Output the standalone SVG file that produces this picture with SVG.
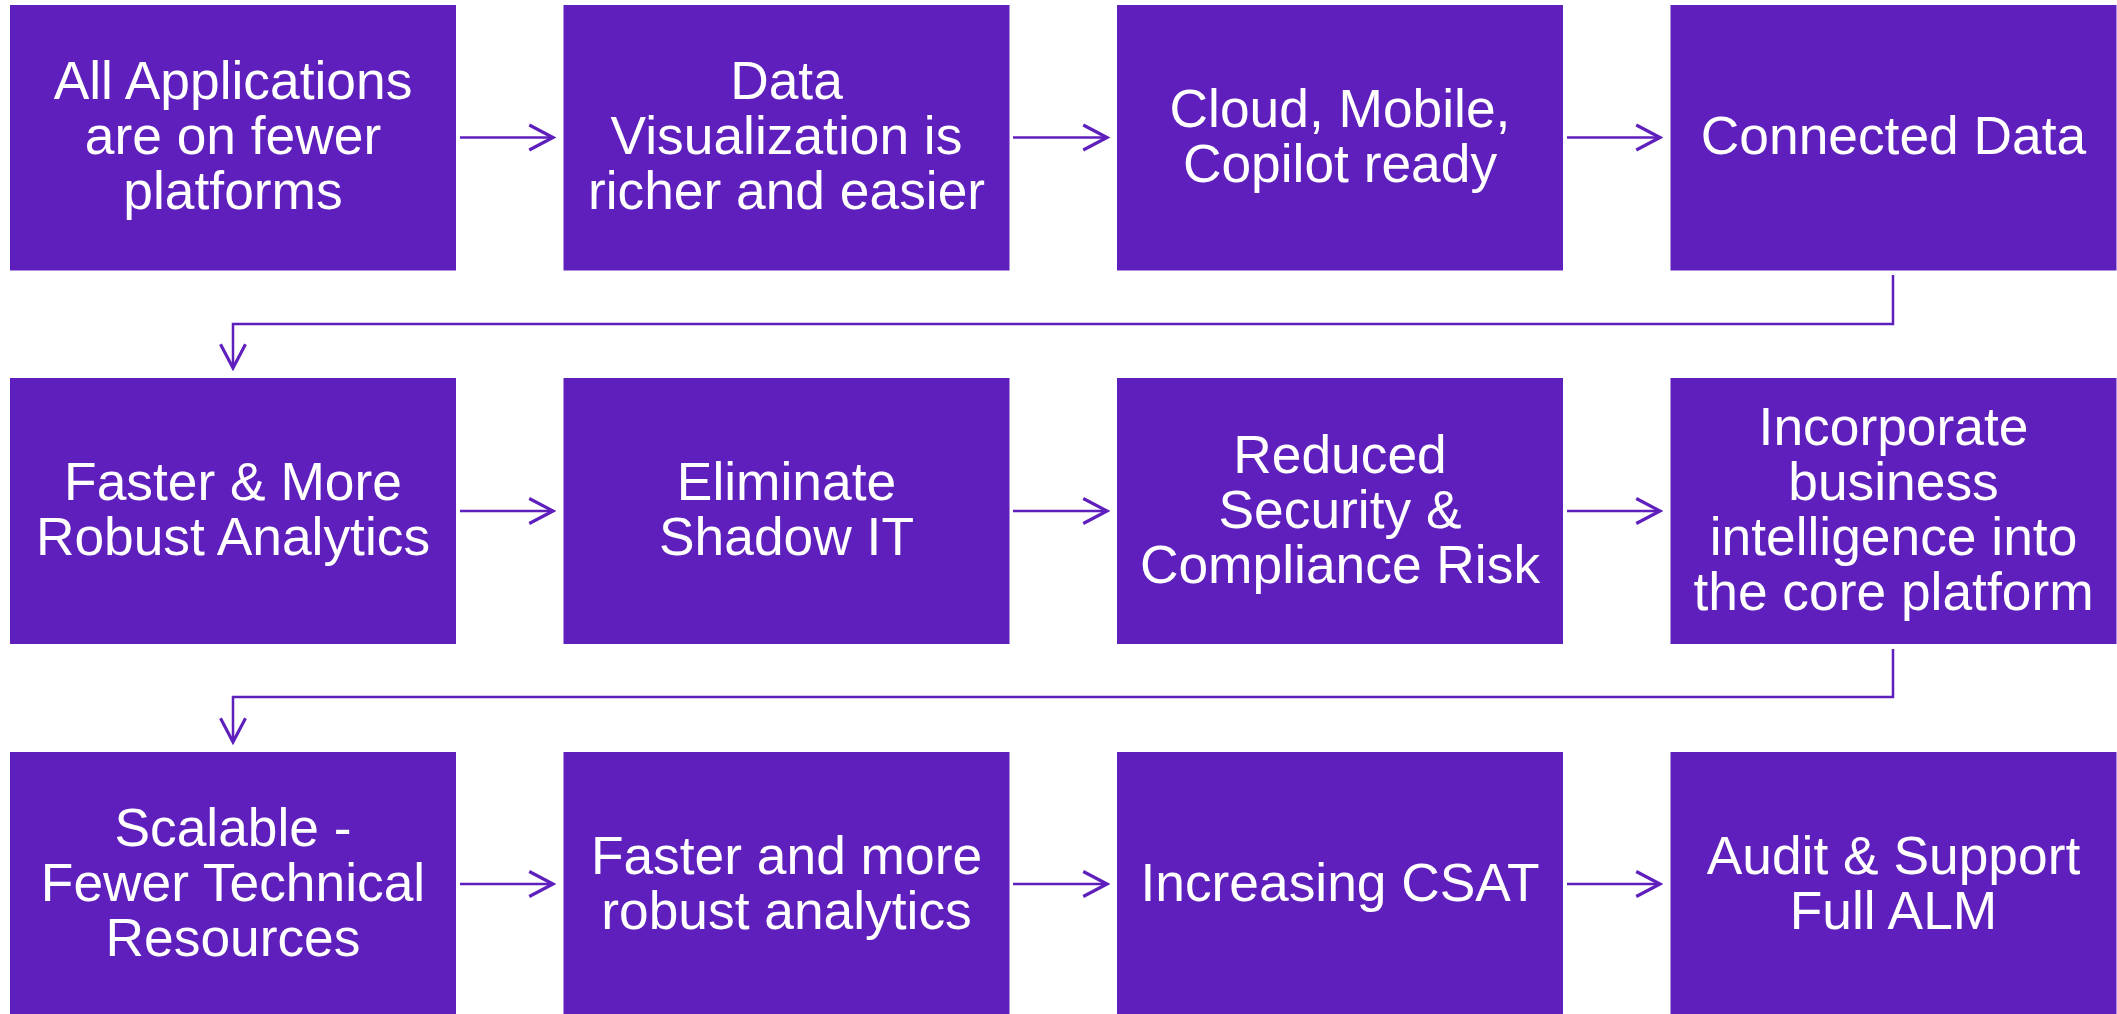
<svg xmlns="http://www.w3.org/2000/svg" width="2117" height="1014" viewBox="0 0 2117 1014">
<defs>
<style>
.box{fill:#5E1FBC;}
.lbl{fill:#FFFFFF;font-family:"Liberation Sans",Arial,sans-serif;font-size:53.33px;text-anchor:middle;}
.con{fill:none;stroke:#5E1FBC;stroke-width:2.5;marker-end:url(#ah);}
</style>
<marker id="ah" markerUnits="userSpaceOnUse" markerWidth="30" markerHeight="30" viewBox="-22 -12 24 24" refX="0" refY="0" orient="auto">
<path d="M-19,-10 L0,0 L-19,10" fill="none" stroke="#5E1FBC" stroke-width="2.5"/>
</marker>
</defs>
<rect width="2117" height="1014" fill="#FFFFFF"/>
<g id="connectors">
<path class="con" d="M460,137.5 H553"/>
<path class="con" d="M1013,137.5 H1107"/>
<path class="con" d="M1567,137.5 H1660"/>
<path class="con" d="M1893,275 V324 H233 V368"/>
<path class="con" d="M460,511 H553"/>
<path class="con" d="M1013,511 H1107"/>
<path class="con" d="M1567,511 H1660"/>
<path class="con" d="M1893,649 V697 H233 V742"/>
<path class="con" d="M460,884 H553"/>
<path class="con" d="M1013,884 H1107"/>
<path class="con" d="M1567,884 H1660"/>
</g>
<g id="n1"><rect class="box" x="10" y="5" width="446" height="265.5"/><text class="lbl" x="233" y="99"><tspan x="233">All Applications</tspan><tspan x="233" dy="55">are on fewer</tspan><tspan x="233" dy="55">platforms</tspan></text></g>
<g id="n2"><rect class="box" x="563.5" y="5" width="446" height="265.5"/><text class="lbl" x="786.5" y="99"><tspan x="786.5">Data</tspan><tspan x="786.5" dy="55">Visualization is</tspan><tspan x="786.5" dy="55">richer and easier</tspan></text></g>
<g id="n3"><rect class="box" x="1117" y="5" width="446" height="265.5"/><text class="lbl" x="1340" y="126.5"><tspan x="1340">Cloud, Mobile,</tspan><tspan x="1340" dy="55">Copilot ready</tspan></text></g>
<g id="n4"><rect class="box" x="1670.5" y="5" width="446" height="265.5"/><text class="lbl" x="1893.5" y="154">Connected Data</text></g>
<g id="n5"><rect class="box" x="10" y="378" width="446" height="266"/><text class="lbl" x="233" y="500"><tspan x="233">Faster &amp; More</tspan><tspan x="233" dy="55">Robust Analytics</tspan></text></g>
<g id="n6"><rect class="box" x="563.5" y="378" width="446" height="266"/><text class="lbl" x="786.5" y="500"><tspan x="786.5">Eliminate</tspan><tspan x="786.5" dy="55">Shadow IT</tspan></text></g>
<g id="n7"><rect class="box" x="1117" y="378" width="446" height="266"/><text class="lbl" x="1340" y="472.5"><tspan x="1340">Reduced</tspan><tspan x="1340" dy="55">Security &amp;</tspan><tspan x="1340" dy="55">Compliance Risk</tspan></text></g>
<g id="n8"><rect class="box" x="1670.5" y="378" width="446" height="266"/><text class="lbl" x="1893.5" y="445"><tspan x="1893.5">Incorporate</tspan><tspan x="1893.5" dy="55">business</tspan><tspan x="1893.5" dy="55">intelligence into</tspan><tspan x="1893.5" dy="55">the core platform</tspan></text></g>
<g id="n9"><rect class="box" x="10" y="752" width="446" height="266"/><text class="lbl" x="233" y="846"><tspan x="233">Scalable -</tspan><tspan x="233" dy="55">Fewer Technical</tspan><tspan x="233" dy="55">Resources</tspan></text></g>
<g id="n10"><rect class="box" x="563.5" y="752" width="446" height="266"/><text class="lbl" x="786.5" y="873.5"><tspan x="786.5">Faster and more</tspan><tspan x="786.5" dy="55">robust analytics</tspan></text></g>
<g id="n11"><rect class="box" x="1117" y="752" width="446" height="266"/><text class="lbl" x="1340" y="901">Increasing CSAT</text></g>
<g id="n12"><rect class="box" x="1670.5" y="752" width="446" height="266"/><text class="lbl" x="1893.5" y="873.5"><tspan x="1893.5">Audit &amp; Support</tspan><tspan x="1893.5" dy="55">Full ALM</tspan></text></g>
</svg>
